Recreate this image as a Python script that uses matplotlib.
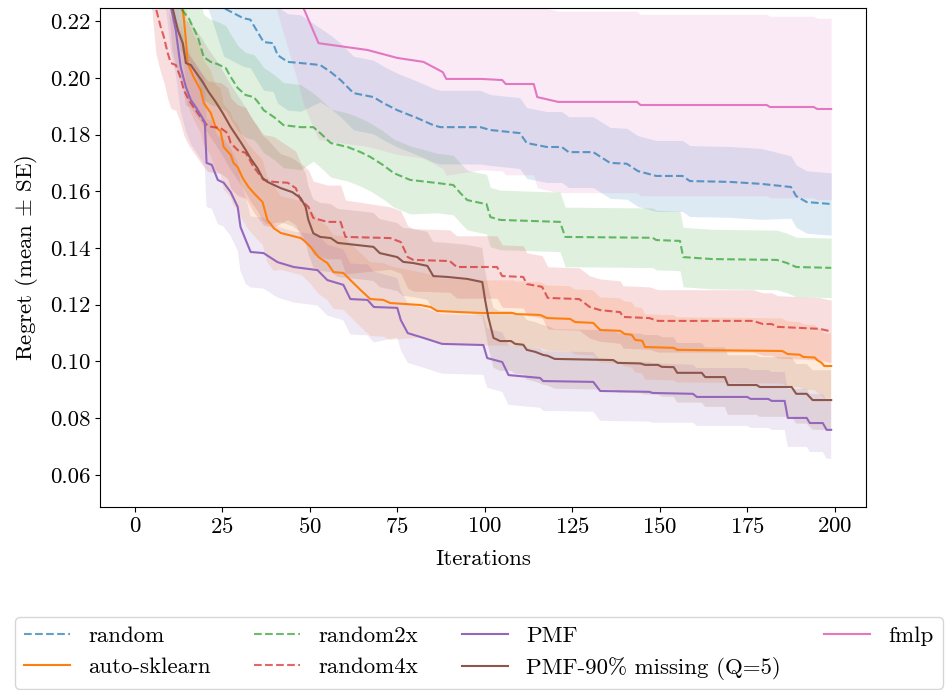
import numpy as np
import matplotlib
matplotlib.use("Agg")
import matplotlib.pyplot as plt

plt.rcParams.update({
    "font.family": "serif",
    "font.serif": ["cmr10"],
    "mathtext.fontset": "cm",
    "axes.formatter.use_mathtext": True,
    "axes.unicode_minus": False,
    "font.size": 16.5,
})

# ---- data: (iteration, mean regret) step corners ----
random_mean = [(0, 0.30), (20, 0.245), (25.4, 0.2246), (31, 0.221), (33, 0.2205), (36.8, 0.2126),
               (39.5, 0.2122), (40.8, 0.208), (43.7, 0.2056), (47.4, 0.2052), (53, 0.2045), (56, 0.202),
               (58.8, 0.1992), (62.5, 0.1946), (68.2, 0.1932), (71, 0.1911), (75, 0.1886), (80.7, 0.1858),
               (85.3, 0.1833), (87.3, 0.1826), (98.7, 0.1826), (101.6, 0.1816), (110, 0.1805), (112, 0.177),
               (117.8, 0.1756), (122, 0.1756), (124, 0.1738), (131, 0.1738), (135.8, 0.17), (140.6, 0.1697),
               (143.8, 0.1671), (149, 0.1654), (156.5, 0.1654), (158.6, 0.1636), (170, 0.1633), (179, 0.1626),
               (187.5, 0.1615), (189, 0.1583), (192, 0.1562), (199, 0.1555)]
random_se_edges = [0, 50, 100, 180]
random_se_vals = [0.017, 0.013, 0.0125, 0.011]

autosk_mean = [(0, 0.36), (12, 0.25), (13.7, 0.2246), (14.6, 0.2133), (15.1, 0.2052), (16.8, 0.2003),
               (18.8, 0.1957), (19.7, 0.1911), (21.7, 0.1876), (23.1, 0.1826), (24.5, 0.1812), (25.4, 0.1756),
               (27.4, 0.1728), (28.2, 0.170), (29.4, 0.1685), (30.8, 0.1647), (32.5, 0.1615), (34.5, 0.1587),
               (36.5, 0.1562), (37.9, 0.1499), (39.7, 0.147), (41.7, 0.1453), (47.4, 0.1435), (48.2, 0.1428),
               (50.2, 0.1404), (52.5, 0.1368), (55, 0.1347), (56.8, 0.1315), (59.6, 0.1312), (61.6, 0.1287),
               (64.5, 0.1252), (67.3, 0.122), (71, 0.1217), (73, 0.1206), (81.6, 0.1199), (84.5, 0.1192),
               (86.4, 0.1178), (93, 0.1174), (99, 0.1171), (108, 0.1171), (109, 0.1167), (115.8, 0.1164),
               (117.8, 0.1153), (124.4, 0.115), (125.8, 0.1139), (131, 0.1136), (133, 0.1111), (138.7, 0.1108),
               (140, 0.1097), (142, 0.1094), (143, 0.1076), (145, 0.1073), (145.8, 0.1051), (154, 0.1048),
               (155, 0.1041), (185, 0.1037), (186.6, 0.1026), (190, 0.1024), (191, 0.1016), (194.3, 0.1014),
               (195, 0.1005), (196.3, 0.0995), (197, 0.0984), (199, 0.0984)]
autosk_se_edges = [0, 40, 80]
autosk_se_vals = [0.015, 0.013, 0.0115]

random2x_mean = [(0, 0.32), (11, 0.24), (13, 0.2246), (15.4, 0.221), (18, 0.2144), (19.7, 0.2073),
                 (21.7, 0.2056), (23.7, 0.2048), (26, 0.2034), (27.4, 0.2003), (29.4, 0.1964), (31.7, 0.1939),
                 (34, 0.1932), (35.4, 0.1911), (36.8, 0.1886), (39.7, 0.1862), (42.5, 0.1833), (47.4, 0.1826),
                 (51, 0.1826), (53, 0.1805), (56, 0.177), (60.8, 0.1756), (64.5, 0.1738), (67.3, 0.1721),
                 (71, 0.1692), (74, 0.1664), (78.7, 0.164), (86.4, 0.1629), (91, 0.1622), (93, 0.1594),
                 (95, 0.1569), (98.7, 0.1559), (100.5, 0.1555), (101.6, 0.1509), (104.4, 0.1499), (121.5, 0.1492),
                 (123, 0.1439), (148, 0.1436), (149, 0.1428), (155.8, 0.1425), (156.7, 0.1368), (165, 0.1361),
                 (183.5, 0.1358), (186.4, 0.1347), (189, 0.1333), (199, 0.133)]
random2x_se_edges = [0, 50, 80]
random2x_se_vals = [0.015, 0.012, 0.0105]

random4x_mean = [(0, 0.30), (4.5, 0.245), (6, 0.2246), (7.4, 0.2179), (8.3, 0.2144), (9.4, 0.2087),
                 (10.3, 0.2052), (11.7, 0.2045), (13, 0.2003), (14, 0.1957), (15.4, 0.1922), (17.4, 0.1886),
                 (19.4, 0.1851), (20.8, 0.183), (22.5, 0.1826), (24.5, 0.1823), (26.5, 0.1805), (27.4, 0.177),
                 (29.4, 0.1745), (31.7, 0.1735), (34, 0.1685), (36.8, 0.164), (39.7, 0.1633), (43.7, 0.163),
                 (46, 0.1611), (47.4, 0.1569), (49.6, 0.1545), (51, 0.1506), (55, 0.1492), (58.8, 0.1492),
                 (60.2, 0.1439), (73, 0.1435), (76, 0.1421), (78, 0.1368), (79.6, 0.1358), (90, 0.1354),
                 (92, 0.1333), (103.5, 0.1333), (105, 0.1301), (111, 0.1298), (112, 0.1273), (116.4, 0.1263),
                 (118, 0.1224), (127, 0.122), (130, 0.1192), (133, 0.1181), (138.7, 0.1174), (139.5, 0.1157),
                 (147, 0.1153), (149.5, 0.1143), (176.6, 0.1143), (179.5, 0.1132), (182, 0.1132), (183.7, 0.1122),
                 (195.7, 0.1115), (198.6, 0.1107), (199, 0.1107)]
random4x_se_edges = [0, 40, 70]
random4x_se_vals = [0.016, 0.013, 0.011]

pmf_mean = [(0, 0.33), (8, 0.25), (10.3, 0.2249), (11.7, 0.2168), (13.1, 0.2038), (14.6, 0.1967),
            (16, 0.1922), (17.4, 0.1897), (18.8, 0.1869), (20, 0.1844), (20.5, 0.170), (22, 0.1693),
            (23.7, 0.164), (25.4, 0.163), (27.4, 0.1597), (29.4, 0.1545), (30.2, 0.1474), (31.7, 0.1428),
            (33.1, 0.1386), (36.8, 0.1382), (40.8, 0.135), (45.4, 0.1333), (52.2, 0.1322), (55, 0.1287),
            (59.6, 0.127), (61.6, 0.122), (66.5, 0.1217), (68.3, 0.1192), (75, 0.1189), (76, 0.1146),
            (78, 0.110), (82.5, 0.1083), (87.8, 0.1062), (99.6, 0.1058), (100.7, 0.1012), (105, 0.0998),
            (106.8, 0.0952), (115.8, 0.0942), (116.7, 0.0931), (131, 0.0928), (133, 0.0896), (147, 0.0893),
            (148, 0.0889), (159.5, 0.0886), (160.6, 0.0875), (175, 0.0875), (176, 0.0868), (181, 0.0868),
            (182, 0.0861), (185.7, 0.0861), (186.6, 0.0801), (192, 0.0801), (192.9, 0.0783), (196.6, 0.0783),
            (197.7, 0.0759), (199, 0.0759)]
pmf_se_edges = [0, 32, 70, 150]
pmf_se_vals = [0.0155, 0.0125, 0.0105, 0.0102]

pmf90_mean = [(0, 0.34), (9, 0.25), (10.8, 0.2246), (12.3, 0.2168), (13.7, 0.2122), (14.6, 0.2052),
              (16, 0.2045), (17.4, 0.202), (19.4, 0.1985), (21.1, 0.195), (23.1, 0.1915), (25.1, 0.1876),
              (27.4, 0.1826), (28.8, 0.18), (30.2, 0.1774), (31.7, 0.1745), (33.1, 0.1715), (35, 0.1682),
              (36.5, 0.1647), (37.9, 0.1633), (41.7, 0.1611), (45, 0.1597), (47.4, 0.1576), (48.8, 0.1545),
              (49.6, 0.1499), (51, 0.1452), (53, 0.1439), (56, 0.1435), (58, 0.1418), (68.2, 0.1404),
              (70, 0.1382), (75, 0.1368), (76.7, 0.1351), (79.6, 0.1347), (83.6, 0.1337), (85.3, 0.1301),
              (89.3, 0.1298), (95, 0.1291), (99.3, 0.128), (100.1, 0.1217), (101, 0.1157), (102.5, 0.1083),
              (104.4, 0.1072), (107.5, 0.1072), (108.7, 0.1062), (111, 0.1059), (112, 0.1041), (114.4, 0.1034),
              (116.7, 0.1023), (118, 0.102), (120, 0.1009), (136.7, 0.1005), (138, 0.0995), (144.5, 0.0993),
              (145.8, 0.0988), (149.5, 0.0988), (150.6, 0.0981), (154, 0.098), (155, 0.096), (162, 0.096),
              (163, 0.0945), (168.6, 0.0945), (169.5, 0.0917), (177.7, 0.0917), (178.6, 0.091), (187.7, 0.091),
              (189, 0.0886), (192, 0.0886), (193.7, 0.0864), (199, 0.0864)]
pmf90_se_edges = [0, 40, 100]
pmf90_se_vals = [0.015, 0.012, 0.0105]

fmlp_mean = [(0, 0.36), (40, 0.26), (46, 0.235), (48.2, 0.2246), (52.5, 0.2122), (66.5, 0.2098),
             (75, 0.207), (82.5, 0.2056), (88, 0.202), (89, 0.1996), (99, 0.1996), (105, 0.1992),
             (106, 0.1978), (114, 0.1978), (115, 0.1932), (121, 0.1915), (143.5, 0.1915), (144.5, 0.1904),
             (180.6, 0.1904), (181.5, 0.1897), (194, 0.1897), (195, 0.189), (199, 0.189)]
fmlp_se_edges = [0, 90]
fmlp_se_vals = [0.034, 0.032]

labels = ["random", "auto-sklearn", "random2x", "random4x", "PMF",
          "PMF-90% missing (Q=5)", "fmlp"]

series = [
    (random_mean, random_se_edges, random_se_vals, "#1f77b4", "--", 0.7),
    (autosk_mean, autosk_se_edges, autosk_se_vals, "#ff7f0e", "-", 1.0),
    (random2x_mean, random2x_se_edges, random2x_se_vals, "#2ca02c", "--", 0.7),
    (random4x_mean, random4x_se_edges, random4x_se_vals, "#d62728", "--", 0.7),
    (pmf_mean, pmf_se_edges, pmf_se_vals, "#9467bd", "-", 1.0),
    (pmf90_mean, pmf90_se_edges, pmf90_se_vals, "#8c564b", "-", 1.0),
    (fmlp_mean, fmlp_se_edges, fmlp_se_vals, "#e377c2", "-", 1.0),
]

fig = plt.figure(figsize=(9.49, 6.90), dpi=100)
ax = fig.add_axes([100 / 949, 1 - 507 / 690, 766 / 949, 499 / 690])

handles = []
for (pts, edges, vals, color, ls, alpha), lab in zip(series, labels):
    arr = np.array(pts)
    it, m = arr[:, 0], arr[:, 1]
    idx = np.clip(np.searchsorted(edges, it, side="right") - 1, 0, len(vals) - 1)
    se = np.array(vals)[idx]
    ax.fill_between(it, m - se, m + se, color=color, alpha=0.15, linewidth=0)
    h, = ax.plot(it, m, color=color, linestyle=ls, alpha=alpha, linewidth=1.5, label=lab)
    handles.append(h)

ax.set_xlim(-9.95, 208.95)
ax.set_ylim(0.0487, 0.2246)
ax.set_xticks([0, 25, 50, 75, 100, 125, 150, 175, 200])
ax.set_yticks([0.06, 0.08, 0.10, 0.12, 0.14, 0.16, 0.18, 0.20, 0.22])
ax.set_yticklabels(["0.06", "0.08", "0.10", "0.12", "0.14", "0.16", "0.18", "0.20", "0.22"])
ax.set_xlabel("Iterations", labelpad=9)
ax.set_ylabel(r"Regret (mean $\pm$ SE)", labelpad=7)

fig.legend(handles, labels, loc="upper left", ncol=4, mode="expand",
           bbox_to_anchor=(15 / 949, 1 - 617 / 690, 928 / 949, 0.0), borderaxespad=0.0,
           fontsize=16.5, labelspacing=0.45, borderpad=0.4)

fig.savefig("out.png", dpi=100)
